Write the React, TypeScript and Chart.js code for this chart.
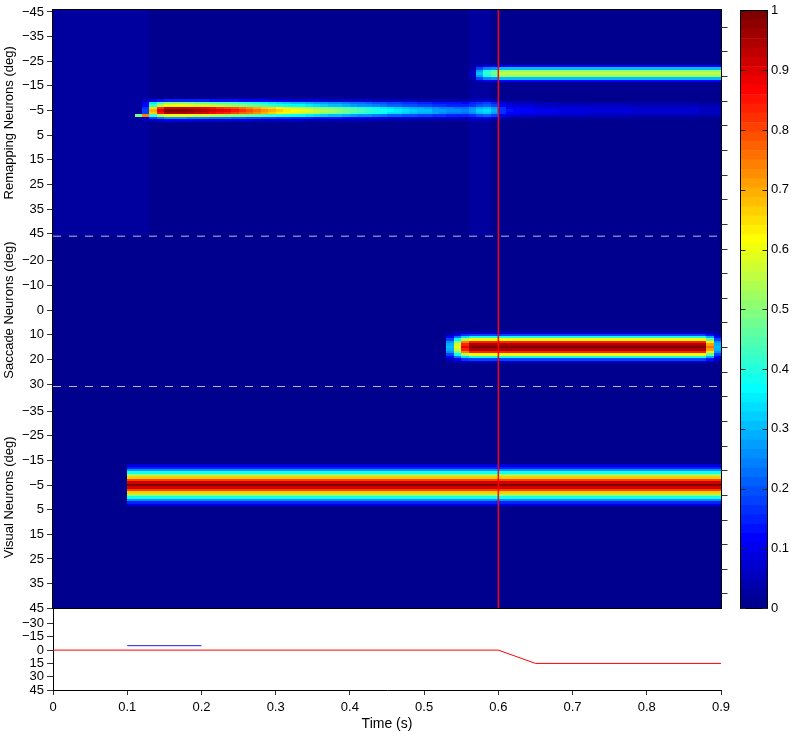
import React, { useEffect, useRef } from "react";
import { Chart, registerables } from "chart.js";

Chart.register(...registerables);

const FONT = "'Liberation Sans', Arial, Helvetica, sans-serif";

// ---------------- data ----------------
const TIME_BIN = 0.01; // seconds per heatmap column
const timeTicks = [0, 0.1, 0.2, 0.3, 0.4, 0.5, 0.6, 0.7, 0.8, 0.9];

const remapRange = [-45, 45];
const saccadeRange = [-30, 30];
const visualRange = [-45, 45];

const remapTickLabels = [-45, -35, -25, -15, -5, 5, 15, 25, 35, 45];
const saccadeTickLabels = [-20, -10, 0, 10, 20, 30];
const visualTickLabels = [-35, -25, -15, -5, 5, 15, 25, 35, 45];
const eyeTickLabels = [-30, -15, 0, 15, 30, 45];
const colorbarTicks = [0, 0.1, 0.2, 0.3, 0.4, 0.5, 0.6, 0.7, 0.8, 0.9, 1];
const heatmapRightTickRows = [7, 17, 27, 37, 47, 57, 67, 77, 87, 97, 107, 117, 127, 137, 147, 157, 167, 177, 187, 197, 207, 217, 227, 237];

const panelTitles = ["Remapping Neurons (deg)", "Saccade Neurons (deg)", "Visual Neurons (deg)"];

// visual neurons: band centred at -5 deg
const visualCenter = -5;
const visualProfile = [0.08, 0.15, 0.25, 0.38, 0.52, 0.66, 0.8, 0.92, 1.0, 0.92, 0.8, 0.66, 0.52, 0.38, 0.25, 0.15, 0.08];
const visualEnvelope = [
  0, 0, 0, 0, 0, 0, 0, 0, 0, 0,
  1, 1, 1, 1, 1, 1, 1, 1, 1, 1,
  1, 1, 1, 1, 1, 1, 1, 1, 1, 1,
  1, 1, 1, 1, 1, 1, 1, 1, 1, 1,
  1, 1, 1, 1, 1, 1, 1, 1, 1, 1,
  1, 1, 1, 1, 1, 1, 1, 1, 1, 1,
  1, 1, 1, 1, 1, 1, 1, 1, 1, 1,
  1, 1, 1, 1, 1, 1, 1, 1, 1, 1,
  1, 1, 1, 1, 1, 1, 1, 1, 1, 1,
];

// saccade neurons: band centred at 15 deg
const saccadeCenter = 15;
const saccadeProfile = [0.06, 0.18, 0.38, 0.62, 0.84, 0.95, 1.0, 0.95, 0.84, 0.62, 0.38, 0.18, 0.06];
const saccadeEnvelope = [
  0, 0, 0, 0, 0, 0, 0, 0, 0, 0,
  0, 0, 0, 0, 0, 0, 0, 0, 0, 0,
  0, 0, 0, 0, 0, 0, 0, 0, 0, 0,
  0, 0, 0, 0, 0, 0, 0, 0, 0, 0,
  0, 0, 0, 0, 0, 0, 0, 0, 0, 0,
  0, 0, 0, 0.3, 0.6, 0.88, 1, 1, 1, 1,
  1, 1, 1, 1, 1, 1, 1, 1, 1, 1,
  1, 1, 1, 1, 1, 1, 1, 1, 1, 1,
  1, 1, 1, 1, 1, 1, 1, 1, 0.75, 0.3,
];

// remapping neurons: early band at -5 deg, late band at -20 deg
const remapEarlyCenter = -5;
const remapEarlyProfile = [0.15, 0.5, 0.6, 0.92, 1.0, 0.95, 0.6, 0.25, 0.08];
const remapEarlyEnvelope = [
  0, 0, 0, 0, 0, 0, 0, 0, 0, 0,
  0, 0, 0.15, 0.7, 0.9, 1.0, 1.0, 1.0, 0.98, 0.96,
  0.95, 0.92, 0.9, 0.88, 0.85, 0.82, 0.79, 0.76, 0.73, 0.7,
  0.67, 0.64, 0.62, 0.6, 0.58, 0.56, 0.54, 0.52, 0.5, 0.48,
  0.46, 0.44, 0.42, 0.4, 0.38, 0.36, 0.35, 0.33, 0.32, 0.31,
  0.3, 0.28, 0.27, 0.26, 0.25, 0.24, 0.25, 0.3, 0.31, 0.29,
  0.17, 0.13, 0.12, 0.11, 0.11, 0.1, 0.1, 0.1, 0.09, 0.09,
  0.09, 0.09, 0.08, 0.08, 0.08, 0.08, 0.08, 0.08, 0.07, 0.07,
  0.07, 0.07, 0.07, 0.07, 0.07, 0.07, 0.07, 0.06, 0.06, 0.06,
];
const remapLateCenter = -20;
const remapLateProfile = [0.2, 0.55, 0.92, 1.0, 0.92, 0.55, 0.2];
const remapLateEnvelope = [
  0, 0, 0, 0, 0, 0, 0, 0, 0, 0,
  0, 0, 0, 0, 0, 0, 0, 0, 0, 0,
  0, 0, 0, 0, 0, 0, 0, 0, 0, 0,
  0, 0, 0, 0, 0, 0, 0, 0, 0, 0,
  0, 0, 0, 0, 0, 0, 0, 0, 0, 0,
  0, 0, 0, 0, 0, 0, 0.04, 0.28, 0.4, 0.48,
  0.55, 0.55, 0.55, 0.55, 0.55, 0.55, 0.55, 0.55, 0.55, 0.55,
  0.55, 0.55, 0.55, 0.55, 0.55, 0.55, 0.55, 0.55, 0.55, 0.55,
  0.55, 0.55, 0.55, 0.55, 0.55, 0.55, 0.55, 0.55, 0.55, 0.55,
];
const remapBaseline = [
  0.03, 0.03, 0.03, 0.03, 0.03, 0.03, 0.03, 0.03, 0.03, 0.03,
  0.03, 0.03, 0.03, 0, 0, 0, 0, 0, 0, 0,
  0, 0, 0, 0, 0, 0, 0, 0, 0, 0,
  0, 0, 0, 0, 0, 0, 0, 0, 0, 0,
  0, 0, 0, 0, 0, 0, 0, 0, 0, 0,
  0, 0, 0, 0, 0, 0, 0.02, 0.02, 0.02, 0,
  0, 0, 0, 0, 0, 0, 0, 0, 0, 0,
  0, 0, 0, 0, 0, 0, 0, 0, 0, 0,
  0, 0, 0, 0, 0, 0, 0, 0, 0, 0,
];
const remapStreakDeg = -3;
const remapStreakTimes = [0.11, 0.12];
const remapStreakValues = [0.45, 0.62];

// markers
const saccadeOnsetTime = 0.6;
const panelBoundaryRows = [92, 153];

// bottom panel: eye position and target
const eyeTimes = [0, 0.6, 0.65, 0.9];
const eyePosition = [0, 0, 15, 15];
const targetTimes = [0.1, 0.2];
const targetPosition = [-5, -5];

// ---------------- derived tables ----------------
const remapRows = remapRange[1] - remapRange[0] + 1;
const saccadeRows = saccadeRange[1] - saccadeRange[0] + 1;
const visualRows = visualRange[1] - visualRange[0] + 1;
const totalRows = remapRows + saccadeRows + visualRows;
const nCols = remapEarlyEnvelope.length;

function profileAt(profile: number[], center: number, deg: number) {
  const half = (profile.length - 1) / 2;
  const k = deg - center + half;
  return k >= 0 && k < profile.length ? profile[k] : 0;
}

const heatmapTable: number[][] = [];
for (let d = remapRange[0]; d <= remapRange[1]; d++) {
  heatmapTable.push(
    remapEarlyEnvelope.map((e, c) => {
      let v = remapBaseline[c] + e * profileAt(remapEarlyProfile, remapEarlyCenter, d) +
        remapLateEnvelope[c] * profileAt(remapLateProfile, remapLateCenter, d);
      if (d === remapStreakDeg) {
        const si = remapStreakTimes.findIndex((t) => Math.round(t / TIME_BIN) === c);
        if (si >= 0) v += remapStreakValues[si];
      }
      return v;
    })
  );
}
for (let d = saccadeRange[0]; d <= saccadeRange[1]; d++) {
  heatmapTable.push(saccadeEnvelope.map((e) => e * profileAt(saccadeProfile, saccadeCenter, d)));
}
for (let d = visualRange[0]; d <= visualRange[1]; d++) {
  heatmapTable.push(visualEnvelope.map((e) => e * profileAt(visualProfile, visualCenter, d)));
}

const yTickEntries = [
  ...remapTickLabels.map((d) => ({ value: d - remapRange[0] + 1, label: d })),
  ...saccadeTickLabels.map((d) => ({ value: remapRows + d - saccadeRange[0] + 1, label: d })),
  ...visualTickLabels.map((d) => ({ value: remapRows + saccadeRows + d - visualRange[0] + 1, label: d })),
];

const fmt = (v: number) => (v < 0 ? "\u2212" + Math.abs(v) : String(v));

// MATLAB jet(64)
function jet(v: number) {
  let i = Math.floor(v * 64);
  if (i < 0) i = 0;
  if (i > 63) i = 63;
  const k = i + 1;
  const u = (j: number) => (j < 16 ? (j + 1) / 16 : j <= 30 ? 1 : (47 - j) / 16);
  const r = k >= 25 ? u(k - 25) : 0;
  const g = k >= 9 && k <= 55 ? u(k - 9) : 0;
  const b = k <= 39 ? u(k + 7) : 0;
  return `rgb(${Math.round(r * 255)},${Math.round(g * 255)},${Math.round(b * 255)})`;
}

// ---------------- plugins ----------------
const heatmapPlugin = {
  id: "neuronHeatmap",
  beforeDatasetsDraw(chart: any) {
    const { ctx } = chart;
    const x = chart.scales.x;
    const y = chart.scales.y;
    ctx.save();
    ctx.beginPath();
    ctx.rect(x.left, y.top, x.right - x.left, y.bottom - y.top);
    ctx.clip();
    for (let c = 0; c < nCols; c++) {
      const x0 = Math.round(x.getPixelForValue(c * TIME_BIN));
      const x1 = Math.round(x.getPixelForValue((c + 1) * TIME_BIN));
      for (let r = 0; r < totalRows; r++) {
        const y0 = Math.round(y.getPixelForValue(r === 0 ? 0 : r + 0.5));
        const y1 = Math.round(y.getPixelForValue(r + 1.5));
        ctx.fillStyle = jet(heatmapTable[r][c]);
        ctx.fillRect(x0, y0, x1 - x0, y1 - y0);
      }
    }
    ctx.restore();
  },
  afterDatasetsDraw(chart: any) {
    const { ctx } = chart;
    const x = chart.scales.x;
    const y = chart.scales.y;
    ctx.save();
    ctx.strokeStyle = "#000";
    ctx.lineWidth = 1;
    const l = Math.round(x.left) - 0.5;
    const rr = Math.round(x.right) + 0.5;
    const t = Math.round(y.top) - 0.5;
    const b = Math.round(y.bottom) + 0.5;
    ctx.strokeRect(l, t, rr - l, b - t);
    ctx.strokeStyle = "#333";
    ctx.beginPath();
    for (const v of heatmapRightTickRows) {
      const py = Math.round(y.getPixelForValue(v)) + 0.5;
      ctx.moveTo(rr, py);
      ctx.lineTo(rr + 6, py);
    }
    ctx.stroke();
    // panel titles
    ctx.fillStyle = "#000";
    ctx.font = `13px ${FONT}`;
    ctx.textAlign = "center";
    ctx.textBaseline = "middle";
    const spans = [
      [0, remapRows],
      [remapRows, remapRows + saccadeRows],
      [remapRows + saccadeRows, totalRows],
    ];
    panelTitles.forEach((txt, i) => {
      const cy = (y.getPixelForValue(spans[i][0] + 0.5) + y.getPixelForValue(spans[i][1] + 0.5)) / 2;
      ctx.save();
      ctx.translate(y.left + 9, cy);
      ctx.rotate(-Math.PI / 2);
      ctx.fillText(txt, 0, 0);
      ctx.restore();
    });
    ctx.restore();
  },
};

const colorbarFramePlugin = {
  id: "colorbarFrame",
  afterDatasetsDraw(chart: any) {
    const { ctx, chartArea } = chart;
    const y = chart.scales.y;
    ctx.save();
    ctx.strokeStyle = "#000";
    ctx.lineWidth = 1;
    const l = Math.round(chartArea.left) - 0.5;
    const r = Math.round(chartArea.right) + 0.5;
    const t = Math.round(chartArea.top) - 0.5;
    const b = Math.round(chartArea.bottom) + 0.5;
    ctx.strokeRect(l, t, r - l, b - t);
    ctx.strokeStyle = "#222";
    ctx.beginPath();
    for (const v of colorbarTicks) {
      const py = Math.round(y.getPixelForValue(v)) + 0.5;
      ctx.moveTo(l, py);
      ctx.lineTo(l + 5, py);
      ctx.moveTo(r - 5, py);
      ctx.lineTo(r, py);
    }
    ctx.stroke();
    ctx.restore();
  },
};

const tickFont = { family: FONT, size: 13, lineHeight: 1 };

export default function App() {
  const mainRef = useRef<HTMLCanvasElement>(null);
  const barRef = useRef<HTMLCanvasElement>(null);

  useEffect(() => {
    const main = new Chart(mainRef.current as HTMLCanvasElement, {
      type: "line",
      data: {
        datasets: [
          {
            data: [
              { x: saccadeOnsetTime, y: 0 },
              { x: saccadeOnsetTime, y: totalRows },
            ],
            yAxisID: "y",
            borderColor: "#ff0000",
            borderWidth: 1.5,
            pointRadius: 0,
          },
          ...panelBoundaryRows.map((row) => ({
            data: [
              { x: timeTicks[0], y: row },
              { x: timeTicks[timeTicks.length - 1], y: row },
            ],
            yAxisID: "y",
            borderColor: "rgba(255,255,255,0.72)",
            borderWidth: 1,
            borderDash: [8, 8],
            pointRadius: 0,
          })),
          {
            data: eyeTimes.map((t, i) => ({ x: t, y: eyePosition[i] })),
            yAxisID: "y2",
            borderColor: "#ff0000",
            borderWidth: 1,
            pointRadius: 0,
          },
          {
            data: targetTimes.map((t, i) => ({ x: t, y: targetPosition[i] })),
            yAxisID: "y2",
            borderColor: "rgb(30,30,230)",
            borderWidth: 1,
            pointRadius: 0,
          },
        ] as any,
      },
      options: {
        animation: false,
        responsive: false,
        devicePixelRatio: 1,
        events: [],
        plugins: { legend: { display: false }, tooltip: { enabled: false } },
        layout: { padding: { top: 7.5, right: 73, bottom: 0, left: 0 } },
        scales: {
          x: {
            type: "linear",
            position: "bottom",
            min: 0,
            max: 0.9,
            afterBuildTicks: (s: any) => {
              s.ticks = timeTicks.map((v) => ({ value: v }));
            },
            afterFit: (s: any) => {
              s.height = 50;
            },
            ticks: {
              autoSkip: false,
              maxRotation: 0,
              font: tickFont,
              color: "#000",
              padding: 6,
              callback: (v: any) => String(Math.round(Number(v) * 10) / 10),
            },
            grid: { drawOnChartArea: false, drawTicks: true, tickLength: 5, color: "#333" },
            border: { color: "#000" },
            title: {
              display: true,
              text: "Time (s)",
              color: "#000",
              font: { family: FONT, size: 14 },
              padding: { top: 0, bottom: 7 },
            },
          },
          y: {
            type: "linear",
            position: "left",
            stack: "left",
            stackWeight: 600.5,
            weight: 2,
            min: 0,
            max: totalRows,
            reverse: true,
            afterBuildTicks: (s: any) => {
              s.ticks = yTickEntries.map((e) => ({ value: e.value }));
            },
            afterFit: (s: any) => {
              s.width = 53;
            },
            ticks: {
              autoSkip: false,
              font: tickFont,
              color: "#000",
              padding: 3,
              callback: (v: any) => {
                const e = yTickEntries.find((t) => Math.abs(t.value - Number(v)) < 1e-6);
                return e ? fmt(e.label) : "";
              },
            },
            grid: { drawOnChartArea: false, drawTicks: true, tickLength: 6, color: "#333" },
            border: { color: "#000" },
          },
          y2: {
            type: "linear",
            position: "left",
            stack: "left",
            stackWeight: 82,
            weight: 1,
            min: -47.25,
            max: 45,
            reverse: true,
            afterBuildTicks: (s: any) => {
              s.ticks = eyeTickLabels.map((v) => ({ value: v }));
            },
            afterFit: (s: any) => {
              s.width = 53;
            },
            ticks: {
              autoSkip: false,
              font: tickFont,
              color: "#000",
              padding: 3,
              callback: (v: any) => fmt(Number(v)),
            },
            grid: { drawOnChartArea: false, drawTicks: true, tickLength: 6, color: "#333" },
            border: { color: "#000" },
          },
        } as any,
      },
      plugins: [heatmapPlugin],
    } as any);

    const levels = Array.from({ length: 64 }, (_, i) => i);
    const bar = new Chart(barRef.current as HTMLCanvasElement, {
      type: "bar",
      data: {
        labels: [""],
        datasets: levels.map((i) => ({
          data: [1 / 64],
          backgroundColor: jet((i + 0.5) / 64),
          borderWidth: 0,
          barPercentage: 1,
          categoryPercentage: 1,
        })),
      },
      options: {
        animation: false,
        responsive: false,
        devicePixelRatio: 1,
        events: [],
        plugins: { legend: { display: false }, tooltip: { enabled: false } },
        layout: { padding: { top: 7.5, right: 0, bottom: 132, left: 741 } },
        scales: {
          x: { display: false, stacked: true },
          y: {
            stacked: true,
            position: "right",
            min: 0,
            max: 1,
            afterBuildTicks: (s: any) => {
              s.ticks = colorbarTicks.map((v) => ({ value: v }));
            },
            afterFit: (s: any) => {
              s.width = 27;
            },
            ticks: {
              autoSkip: false,
              font: tickFont,
              color: "#000",
              padding: 4,
              callback: (v: any) => String(Math.round(Number(v) * 10) / 10),
            },
            grid: { display: false, drawTicks: false },
            border: { display: false },
          },
        } as any,
      },
      plugins: [colorbarFramePlugin],
    } as any);

    return () => {
      main.destroy();
      bar.destroy();
    };
  }, []);

  return (
    <div style={{ position: "absolute", left: 0, top: 0, width: 794, height: 740, background: "#fff" }}>
      <canvas ref={mainRef} width={794} height={740} style={{ position: "absolute", left: 0, top: 0 }} />
      <canvas ref={barRef} width={794} height={740} style={{ position: "absolute", left: 0, top: 0 }} />
    </div>
  );
}
